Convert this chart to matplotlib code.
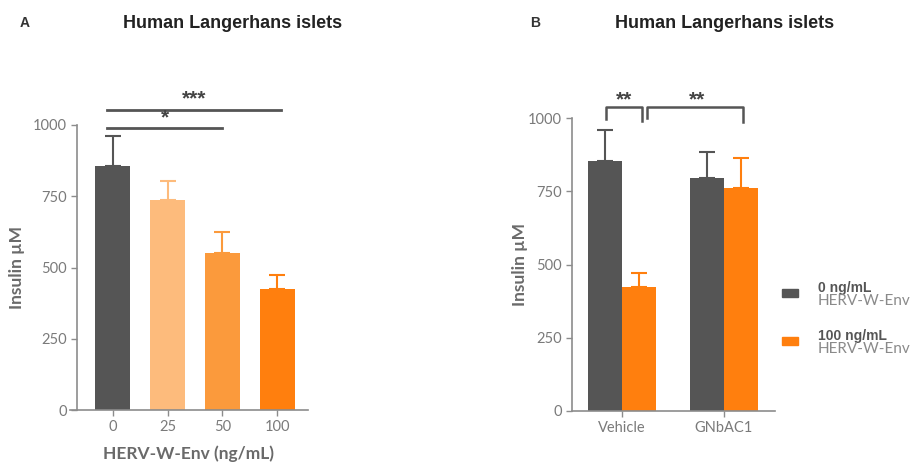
import matplotlib.pyplot as plt
import matplotlib.patches as mpatches

# Panel A: dose response
doses = ['0', '25', '50', '100']
insulin_a = [855, 737, 550, 424]
err_a = [107, 68, 73, 49]
colors_a = ['#555555', '#fdbb7c', '#fb9a3c', '#ff7f0e']

# Panel B: vehicle vs GNbAC1
groups = ['Vehicle', 'GNbAC1']
insulin_0 = [853, 795]
err_0 = [106, 89]
insulin_100 = [423, 761]
err_100 = [48, 102]
legend_labels = [('0 ng/mL', 'HERV-W-Env'), ('100 ng/mL', 'HERV-W-Env')]

GRAY = '#555555'
ORANGE = '#ff7f0e'
AXC = '#8c8c8c'
TXT = '#7a7a7a'
LAB = '#6a6a6a'

plt.rcParams['font.family'] = ['Lato', 'DejaVu Sans']

fig = plt.figure(figsize=(9.12, 4.68), dpi=100)
W, H = 912, 468


def px_axes(x0, x1, y_top, y_bot):
    return fig.add_axes([x0 / W, 1 - y_bot / H, (x1 - x0) / W, (y_bot - y_top) / H])


def style(ax):
    for s in ['top', 'right']:
        ax.spines[s].set_visible(False)
    for s in ['left', 'bottom']:
        ax.spines[s].set_color(AXC)
        ax.spines[s].set_linewidth(1.2)
    ax.tick_params(colors=AXC, labelcolor=TXT, labelsize=10.5, length=4, width=1)
    ax.set_ylim(0, 1000)
    ax.set_yticks([0, 250, 500, 750, 1000])


def star(ax, x, y, s):
    ax.text(x, y, s, ha='center', va='center', fontsize=15, fontweight='bold',
            color='#444444', family='Liberation Sans', clip_on=False)


# ---- Panel A ----
axA = px_axes(70, 308, 125, 410)
style(axA)
xa = list(range(len(doses)))
axA.bar(xa, insulin_a, width=0.64, color=colors_a, zorder=2)
for x, v, e, c in zip(xa, insulin_a, err_a, colors_a):
    axA.errorbar(x, v, yerr=[[0], [e]], color=c, capsize=6, elinewidth=1.5, capthick=1.5,
                 clip_on=False, zorder=1)
axA.set_xlim(-0.78, 3.56)
axA.spines['left'].set_position(('axes', 0.03))
axA.set_xticks(xa)
axA.set_xticklabels(doses)
axA.set_xlabel('HERV-W-Env (ng/mL)', fontsize=12.5, color=LAB, fontweight='bold', labelpad=8)
axA.set_ylabel('Insulin µM', fontsize=12.5, color=LAB, fontweight='bold')
axA.yaxis.set_label_coords(-0.19, 0.5)
# significance lines
axA.plot([-0.1, 3.07], [1053, 1053], color='#555555', lw=2, clip_on=False)
star(axA, 1.49, 1090, '***')
axA.plot([-0.1, 2.0], [988, 988], color='#555555', lw=2, clip_on=False)
star(axA, 0.95, 1024, '*')

fig.text(20 / W, 1 - 23 / H, 'A', ha='left', va='center', fontsize=10, fontweight='bold',
         family='Liberation Sans', color='#333333')
fig.text(233 / W, 1 - 23 / H, 'Human Langerhans islets', ha='center', va='center', fontsize=13,
         fontweight='bold', family='Liberation Sans', color='#222222')

# ---- Panel B ----
axB = px_axes(572, 775, 118, 411)
style(axB)
xb = list(range(len(groups)))
bw = 0.333
xg = [x - bw / 2 for x in xb]
xo = [x + bw / 2 for x in xb]
axB.bar(xg, insulin_0, width=bw, color=GRAY, zorder=2)
axB.bar(xo, insulin_100, width=bw, color=ORANGE, zorder=2)
axB.errorbar(xg, insulin_0, yerr=[[0] * 2, err_0], fmt='none', ecolor=GRAY, capsize=6,
             elinewidth=1.5, capthick=1.5, clip_on=False, zorder=1)
axB.errorbar(xo, insulin_100, yerr=[[0] * 2, err_100], fmt='none', ecolor=ORANGE, capsize=6,
             elinewidth=1.5, capthick=1.5, clip_on=False, zorder=1)
axB.set_xlim(-0.49, 1.5)
axB.set_xticks(xb)
axB.set_xticklabels(groups)
axB.set_ylabel('Insulin µM', fontsize=12.5, color=LAB, fontweight='bold')
axB.yaxis.set_label_coords(-0.215, 0.5)
# brackets
axB.plot([-0.16, -0.16, 0.2, 0.2], [995, 1037, 1037, 990], color='#555555', lw=1.8, clip_on=False)
star(axB, 0.02, 1062, '**')
axB.plot([0.245, 0.245, 1.19, 1.19], [1000, 1037, 1037, 985], color='#555555', lw=1.8, clip_on=False)
star(axB, 0.735, 1062, '**')

fig.text(535 / W, 1 - 23 / H, 'B', ha='center', va='center', fontsize=10, fontweight='bold',
         family='Liberation Sans', color='#333333')
fig.text(725 / W, 1 - 23 / H, 'Human Langerhans islets', ha='center', va='center', fontsize=13,
         fontweight='bold', family='Liberation Sans', color='#222222')

# legend drawn by hand so the text can run off the right edge
for (l1, l2), c, yc in zip(legend_labels, [GRAY, ORANGE], [293, 341]):
    fig.patches.append(mpatches.Rectangle((782 / W, 1 - (yc + 4) / H), 16 / W, 8 / H,
                                          transform=fig.transFigure, color=c))
    fig.text(818 / W, 1 - (yc - 5) / H, l1, ha='left', va='center', fontsize=10,
             fontweight='bold', family='Liberation Sans', color='#555555')
    fig.text(818 / W, 1 - (yc + 8) / H, l2, ha='left', va='center', fontsize=11,
             color='#8a8a8a')

fig.savefig('out.png', dpi=100)
